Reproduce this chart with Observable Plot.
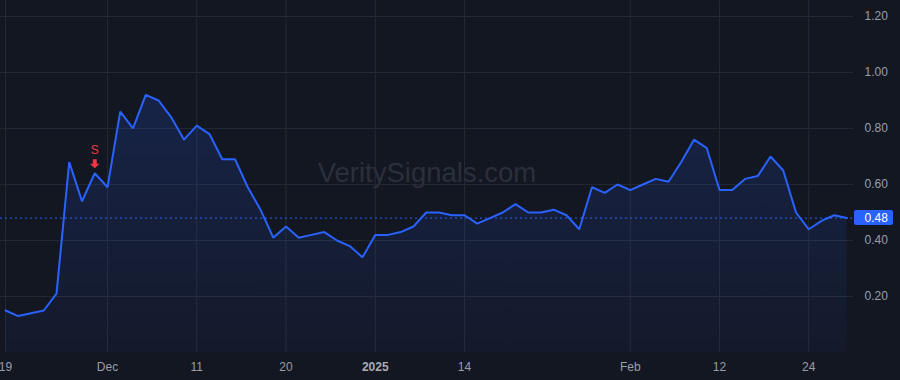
<!DOCTYPE html>
<html>
<head>
<meta charset="utf-8">
<script src="https://cdn.jsdelivr.net/npm/d3@7"></script>
<script src="https://cdn.jsdelivr.net/npm/@observablehq/plot@0.6"></script>
<style>
  html, body { margin: 0; padding: 0; background: #131722; }
  #chart { width: 900px; height: 380px; }
</style>
</head>
<body>
<div id="chart"></div>
<script>
// Daily values (one per trading session, Nov 19 2024 → Feb 27 2025)
const values = [
  0.15, 0.13, 0.14, 0.15, 0.21, 0.68, 0.54, 0.64, 0.59, 0.86,
  0.80, 0.92, 0.90, 0.84, 0.76, 0.81, 0.78, 0.69, 0.69, 0.59,
  0.51, 0.41, 0.45, 0.41, 0.42, 0.43, 0.40, 0.38, 0.34, 0.42,
  0.42, 0.43, 0.45, 0.50, 0.50, 0.49, 0.49, 0.46, 0.48, 0.50,
  0.53, 0.50, 0.50, 0.51, 0.49, 0.44, 0.59, 0.57, 0.60, 0.58,
  0.60, 0.62, 0.61, 0.68, 0.76, 0.73, 0.58, 0.58, 0.62, 0.63,
  0.70, 0.65, 0.50, 0.44, 0.47, 0.49, 0.48
];
// X tick positions (session index) and their labels
const xTickIndex = [0, 8, 15, 22, 29, 36, 49, 56, 63];
const xTickLabels = ["19", "Dec", "11", "20", "2025", "14", "Feb", "12", "24"];
const boldLabels = ["2025"];
// Y ticks
const yTicks = [0.2, 0.4, 0.6, 0.8, 1.0, 1.2];
// Signals
const signalIndex = [7];
const signalLabels = ["S"];
const watermark = "VeritySignals.com";

const data = values.map((v, i) => ({i, v}));
const last = values[values.length - 1];
const labelOf = new Map(xTickIndex.map((t, k) => [t, xTickLabels[k]]));
const normalTicks = xTickIndex.filter(t => !boldLabels.includes(labelOf.get(t)));
const boldTicks = xTickIndex.filter(t => boldLabels.includes(labelOf.get(t)));
const signals = signalIndex.map((i, k) => ({i, v: values[i], label: signalLabels[k]}));

const NS = "http://www.w3.org/2000/svg";
const defsMark = () => {
  const defs = document.createElementNS(NS, "defs");
  const g = document.createElementNS(NS, "linearGradient");
  g.setAttribute("id", "fillGrad");
  g.setAttribute("x1", "0"); g.setAttribute("x2", "0");
  g.setAttribute("y1", "0"); g.setAttribute("y2", "1");
  const s1 = document.createElementNS(NS, "stop");
  s1.setAttribute("offset", "0%"); s1.setAttribute("stop-color", "#2962ff"); s1.setAttribute("stop-opacity", "0.17");
  const s2 = document.createElementNS(NS, "stop");
  s2.setAttribute("offset", "100%"); s2.setAttribute("stop-color", "#2962ff"); s2.setAttribute("stop-opacity", "0.04");
  g.appendChild(s1); g.appendChild(s2); defs.appendChild(g);
  return defs;
};

const arrowSymbol = {
  draw(ctx) {
    ctx.moveTo(-2, -4.5);
    ctx.lineTo(2, -4.5);
    ctx.lineTo(2, 0);
    ctx.lineTo(4.8, 0);
    ctx.lineTo(0, 4.5);
    ctx.lineTo(-4.8, 0);
    ctx.lineTo(-2, 0);
    ctx.closePath();
  }
};

const gridColor = "#252934";
const textColor = "#9a9ea8";

const chart = Plot.plot({
  width: 900,
  height: 380,
  marginLeft: 0,
  marginRight: 47,
  marginTop: 0,
  marginBottom: 28,
  style: {background: "#131722", color: textColor, fontFamily: "'Liberation Sans', Arial, sans-serif", fontSize: "12px", overflow: "visible"},
  x: {type: "linear", domain: [-0.392, 66.51], label: null},
  y: {domain: [0, 1.257], label: null},
  marks: [
    defsMark,
    Plot.gridX(xTickIndex, {stroke: gridColor, strokeOpacity: 1}),
    Plot.gridY(yTicks, {stroke: gridColor, strokeOpacity: 1}),
    Plot.text([watermark], {frameAnchor: "middle", dy: -3, fontSize: 27.5, fill: "#2b2f3b", text: d => d}),
    Plot.areaY(data, {x: "i", y: "v", fill: "url(#fillGrad)"}),
    Plot.lineY(data, {x: "i", y: "v", stroke: "#2962ff", strokeWidth: 2, strokeLinejoin: "miter"}),
    Plot.ruleY([last], {stroke: "#2962ff", strokeWidth: 1, strokeDasharray: "2,3"}),
    Plot.dot(signals, {x: "i", y: "v", symbol: arrowSymbol, r: 5, fill: "#f23645", stroke: "none", dy: -9.5}),
    Plot.text(signals, {x: "i", y: "v", text: "label", dy: -23, fill: "#f23645", fontSize: 12}),
    Plot.axisY(yTicks, {anchor: "right", tickSize: 0, tickPadding: 11, tickFormat: d => d.toFixed(2), label: null, fill: textColor}),
    Plot.axisX(normalTicks, {anchor: "bottom", tickSize: 0, tickPadding: 10, tickFormat: t => labelOf.get(t), label: null, fill: textColor}),
    Plot.axisX(boldTicks, {anchor: "bottom", tickSize: 0, tickPadding: 10, tickFormat: t => labelOf.get(t), label: null, fill: "#a8abb4", fontWeight: "bold"}),
    Plot.text([last], {y: d => d, frameAnchor: "right", dx: 11, textAnchor: "start", fill: "#ffffff", fontSize: 12, text: d => d.toFixed(2)})
  ]
});

document.getElementById("chart").appendChild(chart);

// price label box behind the last value text
const yScale = chart.scale("y");
const yPix = yScale.apply(last);
const texts = chart.querySelectorAll('g[aria-label="text"]');
const labelG = texts[texts.length - 1];
const rect = document.createElementNS(NS, "rect");
rect.setAttribute("x", 900 - 47 + 1);
rect.setAttribute("y", yPix - 7.5);
rect.setAttribute("width", 39);
rect.setAttribute("height", 15);
rect.setAttribute("rx", 2);
rect.setAttribute("fill", "#2962ff");
labelG.parentNode.insertBefore(rect, labelG);
</script>
</body>
</html>
